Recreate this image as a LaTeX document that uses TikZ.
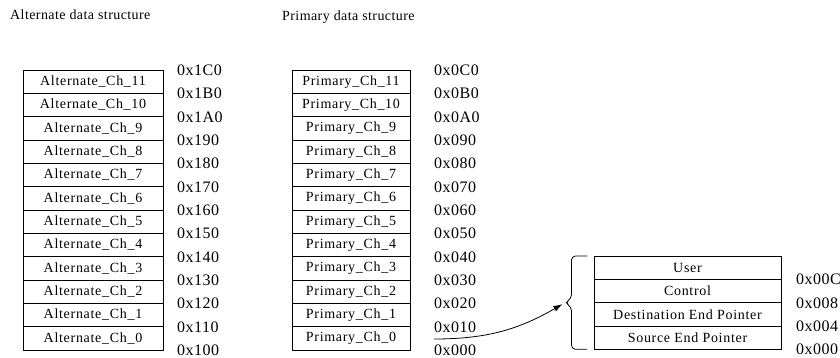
\documentclass[tikz,border=0pt]{standalone}
\usepackage{fontspec}
\setmainfont{Liberation Serif}
\usetikzlibrary{arrows.meta}
\begin{document}
\begin{tikzpicture}[x=1pt,y=-1pt,
  cell/.style={draw,line width=0.8pt,minimum height=23.33pt,inner sep=0pt,
    font=\fontsize{14}{15}\selectfont\addfontfeature{LetterSpace=5}},
  addr/.style={anchor=west,inner sep=0pt,
    font=\fontsize{16}{17}\selectfont\addfontfeature{LetterSpace=3}},
  ttl/.style={anchor=west,inner sep=0pt,
    font=\fontsize{14}{15}\selectfont\addfontfeature{LetterSpace=3}}]
\useasboundingbox (0,0) rectangle (840,358);
\node[ttl] (t1) at (10,15) {Alternate data structure};
\node[ttl] (t2) at (282,17) {Primary data structure};
% alternate and primary
\foreach \i in {0,...,11}{
  \node[cell,minimum width=140pt] (a\i) at (93,{70+(11-\i)*23.333+11.667}) {Alternate\_Ch\_\i};
  \node[cell,minimum width=118pt] (p\i) at (351,{70+(11-\i)*23.333+11.667}) {Primary\_Ch\_\i};
}
\foreach \k/\t in {0/1C0,1/1B0,2/1A0,3/190,4/180,5/170,6/160,7/150,8/140,9/130,10/120,11/110,12/100}{
  \node[addr] (aa\k) at (177,{70+\k*23.333+0.3}) {0x\t};
}
\foreach \k/\t in {0/0C0,1/0B0,2/0A0,3/090,4/080,5/070,6/060,7/050,8/040,9/030,10/020,11/010,12/000}{
  \node[addr] (pa\k) at (434,{70+\k*23.333+0.3}) {0x\t};
}
% descriptor
\foreach \i/\t in {0/Source End Pointer,1/Destination End Pointer,2/Control,3/User}{
  \node[cell,minimum width=187pt] (s\i) at (687.5,{256+(3-\i)*23.333+11.667}) {\t};
}
\foreach \k/\t in {1/00C,2/008,3/004,4/000}{
  \node[addr] (sa\k) at (796,{256+\k*23.333+0.3}) {0x\t};
}
% brace
\coordinate (btip) at (565,302.7);
\draw[line width=0.8pt,rounded corners=4pt] (587,256) -- (571.5,256) -- (571.5,298.5) -- (btip) -- (571.5,307) -- (571.5,349.3) -- (587,349.3);
% arrow
\coordinate (arrstart) at (434,339);
\draw[line width=0.8pt,-{Latex[length=9pt,width=6pt]},shorten >=3pt] (arrstart) to[out=0,in=-150] (btip);
\end{tikzpicture}
\end{document}
